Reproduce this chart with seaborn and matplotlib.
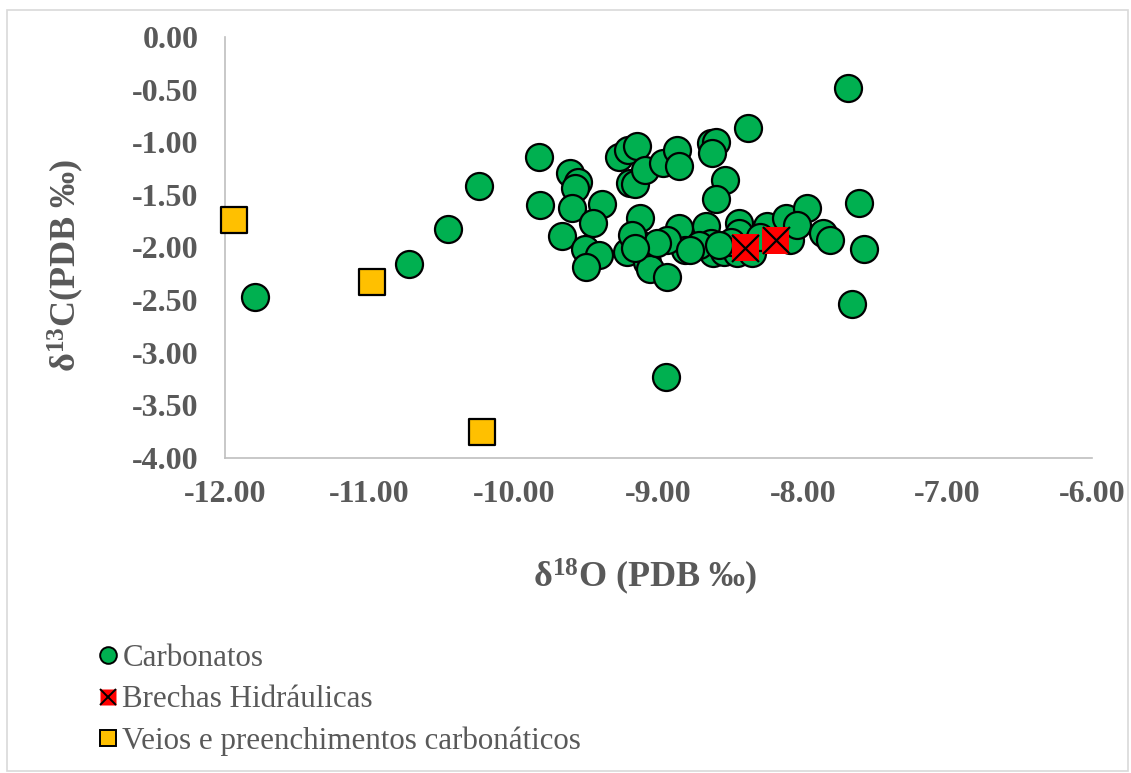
import numpy as np
import pandas as pd
import matplotlib
matplotlib.use("Agg")
import matplotlib.pyplot as plt
import seaborn as sns
from matplotlib.lines import Line2D
from matplotlib.legend_handler import HandlerTuple
from matplotlib.patches import Rectangle

sns.set_style("white")
plt.rcParams['font.family'] = ['Liberation Serif', 'DejaVu Serif']
plt.rcParams['mathtext.fontset'] = 'custom'
plt.rcParams['mathtext.bf'] = 'Liberation Serif:bold'
plt.rcParams['mathtext.rm'] = 'Liberation Serif:bold'
plt.rcParams['mathtext.default'] = 'bf'

# carbonatos
carb_o = [-11.79, -10.73, -10.46, -10.24, -9.83, -9.82, -7.69, -8.38,
          -9.61, -9.56, -9.58, -9.60, -9.39, -9.45, -9.67, -9.51, -9.41, -9.50,
          -9.27, -9.21, -9.15, -9.20, -9.16, -9.09, -8.97, -8.87, -8.86,
          -8.64, -8.60, -8.63, -8.54, -8.60, -9.13, -9.15, -9.22, -9.08, -9.06,
          -8.94, -8.86, -8.82, -8.94, -9.01, -8.67, -8.64, -8.62, -8.55,
          -8.44, -8.44, -8.46, -8.35, -8.25, -8.12, -8.09, -7.97, -8.04,
          -7.86, -7.81, -7.61, -7.58, -7.66, -8.95, -9.18, -8.72, -8.50,
          -9.16, -8.78, -8.58, -8.30]
carb_c = [-2.47, -2.16, -1.82, -1.42, -1.14, -1.60, -0.48, -0.86,
          -1.29, -1.38, -1.43, -1.62, -1.59, -1.77, -1.89, -2.01, -2.07, -2.19,
          -1.14, -1.07, -1.04, -1.39, -1.40, -1.26, -1.20, -1.07, -1.23,
          -1.01, -1.00, -1.10, -1.36, -1.54, -1.72, -1.95, -2.04, -2.14, -2.20,
          -2.28, -1.81, -2.02, -1.93, -1.96, -1.80, -1.96, -2.05, -2.04,
          -1.77, -1.86, -2.05, -2.05, -1.80, -1.72, -1.93, -1.62, -1.79,
          -1.86, -1.93, -1.58, -2.01, -2.54, -3.23, -1.88, -1.98, -1.95,
          -2.00, -2.02, -1.98, -1.90]

# brechas hidraulicas
brecha_o = [-8.40, -8.19]
brecha_c = [-2.00, -1.93]

# veios e preenchimentos carbonaticos
veio_o = [-11.94, -10.98, -10.22]
veio_c = [-1.74, -2.33, -3.75]

green = '#00b050'
red = '#ff0000'
yellow = '#ffc000'
gray = '#595959'

fig = plt.figure(figsize=(11.31, 7.73), dpi=100)
ax = fig.add_axes([225 / 1131, 1 - 458 / 773, (1092 - 225) / 1131, (458 - 37) / 773])

ms = 27 * 0.72
s = ms ** 2

carb = pd.DataFrame({'o': carb_o, 'c': carb_c})
brecha = pd.DataFrame({'o': brecha_o, 'c': brecha_c})
veio = pd.DataFrame({'o': veio_o, 'c': veio_c})

sns.scatterplot(data=carb, x='o', y='c', ax=ax, marker='o', s=s,
                color=green, edgecolor='black', linewidth=1.6, zorder=3)
sns.scatterplot(data=brecha, x='o', y='c', ax=ax, marker='s', s=s,
                color=red, edgecolor='none', linewidth=0, zorder=4)
sns.scatterplot(data=brecha, x='o', y='c', ax=ax, marker='x', s=s,
                color='black', linewidth=1.6, zorder=5)
sns.scatterplot(data=veio, x='o', y='c', ax=ax, marker='s', s=s,
                color=yellow, edgecolor='black', linewidth=1.6, zorder=6)

ax.set_xlim(-12, -6)
ax.set_ylim(-4, 0)
ax.set_xticks(np.arange(-12, -5.9, 1.0))
ax.set_yticks(np.arange(-4, 0.01, 0.5))
ax.xaxis.set_major_formatter(matplotlib.ticker.FormatStrFormatter('%.2f'))
ax.yaxis.set_major_formatter(matplotlib.ticker.FormatStrFormatter('%.2f'))
ax.tick_params(axis='both', length=0, labelsize=23, labelcolor=gray)
ax.tick_params(axis='x', pad=16)
ax.tick_params(axis='y', pad=19)
for lab in ax.get_xticklabels() + ax.get_yticklabels():
    lab.set_fontweight('bold')

sns.despine(ax=ax)
for sp in ['left', 'bottom']:
    ax.spines[sp].set_color('#bfbfbf')
    ax.spines[sp].set_linewidth(1.2)
for coll in ax.collections:
    coll.set_clip_on(False)

ax.set_xlabel(r'δ$^{18}$O (PDB ‰)', fontsize=26, fontweight='bold', color=gray)
ax.set_ylabel(r'δ$^{13}$C(PDB ‰)', fontsize=26, fontweight='bold', color=gray)
ax.xaxis.set_label_coords(0.485, -0.235)
ax.yaxis.set_label_coords(-0.160, 0.457)

# chart area border
fig.patches.append(Rectangle((7 / 1131, 2 / 773), 1121 / 1131, 761 / 773,
                             transform=fig.transFigure, fill=False,
                             edgecolor='#d9d9d9', linewidth=1.2))

lms = 12
h_carb = Line2D([], [], marker='o', linestyle='none', markersize=lms,
                markerfacecolor=green, markeredgecolor='black', markeredgewidth=1.4)
h_b1 = Line2D([], [], marker='s', linestyle='none', markersize=lms,
              markerfacecolor=red, markeredgecolor='none')
h_b2 = Line2D([], [], marker='x', linestyle='none', markersize=lms,
              color='black', markeredgewidth=1.4)
h_veio = Line2D([], [], marker='s', linestyle='none', markersize=lms,
                markerfacecolor=yellow, markeredgecolor='black', markeredgewidth=1.4)

leg = fig.legend([h_carb, (h_b1, h_b2), h_veio],
                 ['Carbonatos', 'Brechas Hidráulicas', 'Veios e preenchimentos carbonáticos'],
                 handler_map={tuple: HandlerTuple(ndivide=1, pad=0)},
                 loc='upper left', bbox_to_anchor=(96 / 1131, 1 - 644 / 773),
                 frameon=False, fontsize=22.3, handlelength=0.75, handletextpad=0.1,
                 labelspacing=0.4, borderaxespad=0, borderpad=0)
for t in leg.get_texts():
    t.set_color(gray)

fig.savefig('out.png', dpi=100)
